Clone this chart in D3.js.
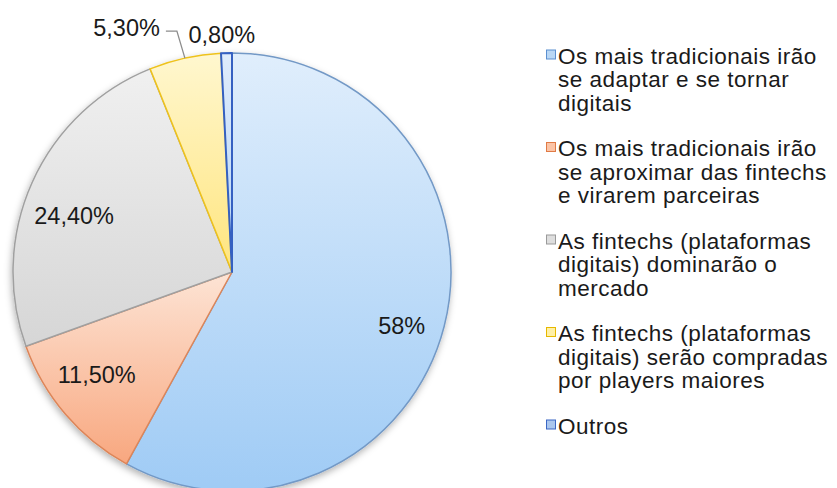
<!DOCTYPE html>
<html>
<head>
<meta charset="utf-8">
<script src="https://cdn.jsdelivr.net/npm/d3@7"></script>
<style>
  html, body { margin: 0; padding: 0; background: #fff; }
  svg { display: block; font-family: "Liberation Sans", Arial, sans-serif; }
</style>
</head>
<body>
<svg id="chart" width="837" height="488"></svg>
<script>
// Chart data
const categories = [
  "Os mais tradicionais irão se adaptar e se tornar digitais",
  "Os mais tradicionais irão se aproximar das fintechs e virarem parceiras",
  "As fintechs (plataformas digitais) dominarão o mercado",
  "As fintechs (plataformas digitais) serão compradas por players maiores",
  "Outros"
];
const values = [58, 11.5, 24.4, 5.3, 0.8];
const valueLabels = ["58%", "11,50%", "24,40%", "5,30%", "0,80%"];
const legendLines = [
  ["Os mais tradicionais irão", "se adaptar e se tornar", "digitais"],
  ["Os mais tradicionais irão", "se aproximar das fintechs", "e virarem parceiras"],
  ["As fintechs (plataformas", "digitais) dominarão o", "mercado"],
  ["As fintechs (plataformas", "digitais) serão compradas", "por players maiores"],
  ["Outros"]
];

// Slice styles: gradient top, gradient bottom, stroke
const sliceColors = [
  { top: "#e0eefc", bottom: "#9fcbf5", stroke: "#7399c6", swatch: "#b9d7f5", swatchStroke: "#5b8fd0" },
  { top: "#fde4d5", bottom: "#f8a77f", stroke: "#dd8558", swatch: "#fbc4a6", swatchStroke: "#e07a45" },
  { top: "#f0f0f0", bottom: "#d6d6d6", stroke: "#a0a0a0", swatch: "#dedede", swatchStroke: "#9a9a9a" },
  { top: "#fff7cf", bottom: "#ffe57e", stroke: "#eec21c", swatch: "#fff0a6", swatchStroke: "#e6b800" },
  { top: "#dfecfb", bottom: "#b5d4f5", stroke: "#3461c1", swatch: "#aac6ee", swatchStroke: "#3a66c4" }
];

const svg = d3.select("#chart");
const cx = 232, cy = 272, radius = 219;

// Gradients and shadow
const defs = svg.append("defs");
sliceColors.forEach((c, i) => {
  const g = defs.append("linearGradient")
    .attr("id", "grad" + i)
    .attr("x1", 0).attr("y1", 0).attr("x2", 0).attr("y2", 1);
  g.append("stop").attr("offset", "0%").attr("stop-color", c.top);
  g.append("stop").attr("offset", "100%").attr("stop-color", c.bottom);
});
const shadow = defs.append("filter").attr("id", "shadow")
  .attr("x", "-10%").attr("y", "-10%").attr("width", "120%").attr("height", "120%");
shadow.append("feDropShadow")
  .attr("dx", -1).attr("dy", 3).attr("stdDeviation", 3.5)
  .attr("flood-color", "#000").attr("flood-opacity", 0.3);

const pie = d3.pie().sort(null).value(d => d);
const arcs = pie(values);
const arc = d3.arc().innerRadius(0).outerRadius(radius);

const g = svg.append("g").attr("transform", `translate(${cx},${cy})`);

g.append("g").attr("filter", "url(#shadow)")
  .selectAll("path")
  .data(arcs)
  .enter()
  .append("path")
  .attr("d", arc)
  .attr("fill", (d, i) => `url(#grad${i})`)
  .attr("stroke", (d, i) => sliceColors[i].stroke)
  .attr("stroke-width", (d, i) => i === 4 ? 2 : 1.5)
  .attr("stroke-linejoin", "round");

// Data labels
const labelArc = d3.arc().innerRadius(radius * 0.8).outerRadius(radius * 0.8);
const edgeArc = d3.arc().innerRadius(radius).outerRadius(radius);
const labelNudge = [[0, 18], [-2, -3], [2, 24]];
const labelFont = 23.5;

arcs.slice(0, 3).forEach((d, i) => {
  const [x, y] = labelArc.centroid(d);
  g.append("text")
    .attr("x", x + labelNudge[i][0])
    .attr("y", y + labelNudge[i][1])
    .attr("text-anchor", "middle")
    .attr("font-size", labelFont)
    .attr("fill", "#1a1a1a")
    .text(valueLabels[i]);
});

// 5,30% with leader line
const [ex, ey] = edgeArc.centroid(arcs[3]);
g.append("path")
  .attr("d", `M${ex},${ey}L${ex - 8},${ey - 27}L${ex - 19},${ey - 27}`)
  .attr("fill", "none")
  .attr("stroke", "#8c8c8c")
  .attr("stroke-width", 1.3);
g.append("text")
  .attr("x", ex - 25)
  .attr("y", ey - 22)
  .attr("text-anchor", "end")
  .attr("font-size", labelFont)
  .attr("fill", "#1a1a1a")
  .text(valueLabels[3]);

// 0,80% above its thin slice
const [ox, oy] = edgeArc.centroid(arcs[4]);
g.append("text")
  .attr("x", ox - 38)
  .attr("y", oy - 10)
  .attr("text-anchor", "start")
  .attr("font-size", labelFont)
  .attr("fill", "#1a1a1a")
  .text(valueLabels[4]);

// Legend
const legend = svg.append("g").attr("transform", "translate(546,0)");
const itemY = d3.scaleLinear().domain([0, 4]).range([63.5, 433.5]);
const lineH = 23.5;

categories.forEach((cat, i) => {
  const item = legend.append("g").attr("transform", `translate(0,${itemY(i)})`);
  item.append("rect")
    .attr("x", 0.5).attr("y", -13.5)
    .attr("width", 9).attr("height", 9)
    .attr("fill", sliceColors[i].swatch)
    .attr("stroke", sliceColors[i].swatchStroke)
    .attr("stroke-width", 1);
  item.append("text")
    .attr("x", 12)
    .attr("font-size", 22.5)
    .attr("letter-spacing", 0.5)
    .attr("fill", "#1a1a1a")
    .selectAll("tspan")
    .data(legendLines[i])
    .enter()
    .append("tspan")
    .attr("x", 12)
    .attr("y", (l, j) => j * lineH)
    .text(l => l);
});
</script>
</body>
</html>
